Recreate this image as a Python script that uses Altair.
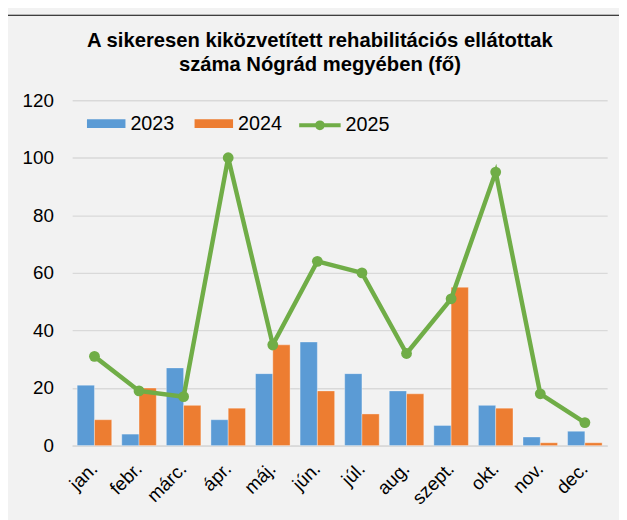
import altair as alt
import pandas as pd

months = ["jan.", "febr.", "márc.", "ápr.", "máj.", "jún.", "júl.", "aug.", "szept.", "okt.", "nov.", "dec."]
v2023 = [21, 4, 27, 9, 25, 36, 25, 19, 7, 14, 3, 5]
v2024 = [9, 20, 14, 13, 35, 19, 11, 18, 55, 13, 1, 1]
v2025 = [31, 19, 17, 100, 35, 64, 60, 32, 51, 95, 18, 8]
bar_years = ["2023", "2024"]
line_year = "2025"
y_ticks = [0, 20, 40, 60, 80, 100, 120]
title_lines = ["A sikeresen kiközvetített rehabilitációs ellátottak", "száma Nógrád megyében (fő)"]

bars_df = pd.DataFrame({
    "month": months * 2,
    "year": [bar_years[0]] * 12 + [bar_years[1]] * 12,
    "value": v2023 + v2024,
})
line_df = pd.DataFrame({"month": months, "year": [line_year] * 12, "value": v2025})

FONT = "Liberation Sans"

x_enc = alt.X(
    "month:N", sort=months,
    scale=alt.Scale(paddingInner=0.225, paddingOuter=0.1125),
    axis=alt.Axis(title=None, labelAngle=-45, labelAlign="right", labelBaseline="middle",
                  labelPadding=20, labelFontSize=19, labelFont=FONT, labelColor="black",
                  ticks=False, domainColor="#d9d9d9", domainWidth=2, grid=False),
)
y_enc = alt.Y(
    "value:Q", scale=alt.Scale(domain=[0, 120], nice=False),
    axis=alt.Axis(title=None, values=y_ticks, grid=True, gridColor="#d9d9d9", gridWidth=1.5,
                  domain=False, ticks=False, labelPadding=19, labelFontSize=19,
                  labelFont=FONT, labelColor="black"),
)

frame = alt.Chart(alt.Data(values=[{}])).mark_rect(
    fillOpacity=0, stroke="black", strokeWidth=1
).encode(x=alt.value(-65.5), x2=alt.value(700), y=alt.value(-86), y2=alt.value(700))

bars = alt.Chart(bars_df).mark_bar(stroke="white", strokeWidth=1, strokeOpacity=0.35).encode(
    x=x_enc,
    xOffset=alt.XOffset("year:N", sort=bar_years),
    y=y_enc,
    color=alt.Color(
        "year:N",
        scale=alt.Scale(domain=bar_years, range=["#5b9bd5", "#ed7d31"]),
        legend=alt.Legend(title=None, orient="none", legendX=15, legendY=4, direction="horizontal",
                          symbolType="M-1,-0.23H1V0.23H-1Z", symbolSize=1521, symbolStrokeWidth=0,
                          labelFontSize=20, labelFont=FONT, labelColor="black", labelOffset=5,
                          columnPadding=20),
    ),
)

line = alt.Chart(line_df).mark_line(strokeWidth=4.5).encode(
    x=x_enc,
    y=y_enc,
    stroke=alt.Stroke(
        "year:N",
        scale=alt.Scale(domain=[line_year], range=["#70ad47"]),
        legend=alt.Legend(title=None, orient="none", legendX=228, legendY=2.5,
                          symbolType="M-1,0H1M-0.14,0A0.14,0.14,0,1,0,0.14,0A0.14,0.14,0,1,0,-0.14,0Z",
                          symbolSize=1764, symbolStrokeWidth=4, symbolFillColor="#70ad47",
                          labelFontSize=20, labelFont=FONT, labelColor="black", labelOffset=3),
    ),
)

points = alt.Chart(line_df).mark_point(filled=True, size=120, opacity=1, color="#70ad47").encode(
    x=x_enc, y=y_enc,
)

chart = alt.layer(frame, bars, line, points).properties(
    width=542, height=350,
    autosize=alt.AutoSizeParams(type="none"),
    padding={"left": 65, "top": 90, "right": 12, "bottom": 72},
    background="#f2f2f2",
    title=alt.Title(title_lines, font=FONT, fontSize=20.5, fontWeight="bold", color="black",
                    lineHeight=24, anchor="middle", frame="group", dx=-20, dy=61, offset=0),
).configure_view(stroke=None)

chart.save("out.html", embed_options={"renderer": "svg", "actions": False})
